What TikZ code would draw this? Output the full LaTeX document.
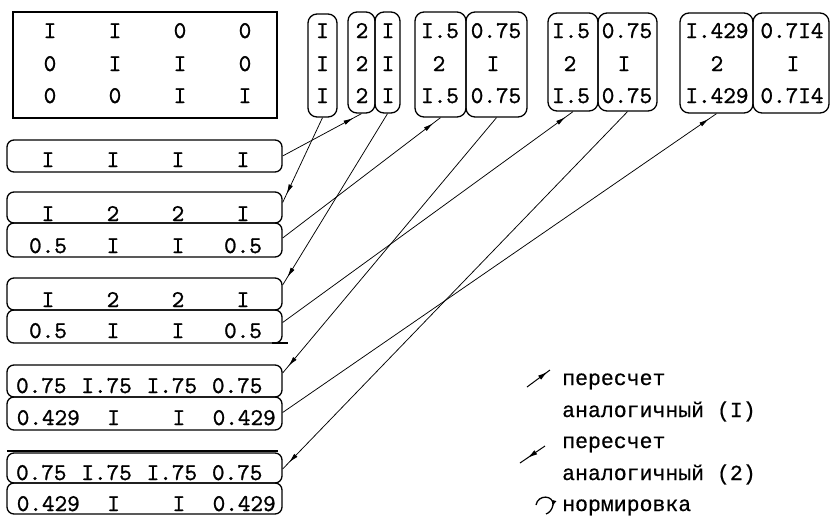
\documentclass[tikz,border=0pt]{standalone}
\usepackage{fontspec}
\newfontfamily\tw{Liberation Mono}[FakeBold=0.5]
\newfontfamily\nums{lmmono10-regular.otf}[FakeBold=1]
\usetikzlibrary{decorations.markings,arrows.meta,calc}
\tikzset{
  box/.style={draw, line width=1.3pt, inner sep=0pt},
  colbox/.style={box, rounded corners=9pt},
  rowbox/.style={box, rounded corners=7pt, minimum width=275pt},
  txt/.style={inner sep=0pt, anchor=base, font=\nums\fontsize{24}{25}\selectfont},
  ltxt/.style={inner sep=0pt, anchor=base west, font=\tw\fontsize{21.5}{22}\selectfont},
  conn/.style={line width=0.75pt,
    decoration={markings, mark=at position -9pt with {\arrow{Latex[length=10pt,width=4.5pt]}}},
    postaction={decorate}},
}
\begin{document}
\begin{tikzpicture}[x=1pt,y=-1pt]
\useasboundingbox (0,0) rectangle (831,515);
% matrix
\node[box, minimum width=264pt, minimum height=106pt] (M) at (145,65) {};
\foreach \t [count=\i] in {I,I,0,0}{\node[txt] (m1\i) at (-15+65*\i,38) {\t};}
\foreach \t [count=\i] in {0,I,I,0}{\node[txt] (m2\i) at (-15+65*\i,71) {\t};}
\foreach \t [count=\i] in {0,0,I,I}{\node[txt] (m3\i) at (-15+65*\i,103) {\t};}
% top columns
\node[colbox, minimum width=29pt, minimum height=103pt] (C1) at (322.5,65.5) {};
\node[colbox, minimum width=27pt, minimum height=101pt] (C2L) at (361.5,62.5) {};
\node[colbox, minimum width=25pt, minimum height=101pt] (C2R) at (387.5,62.5) {};
\node[colbox, minimum width=51pt, minimum height=105pt] (C3L) at (440.5,64.5) {};
\node[colbox, minimum width=61pt, minimum height=105pt] (C3R) at (496.5,64.5) {};
\node[colbox, minimum width=50pt, minimum height=98pt] (C4L) at (573,62) {};
\node[colbox, minimum width=59pt, minimum height=98pt] (C4R) at (627.5,62) {};
\node[colbox, minimum width=73pt, minimum height=100pt] (C5L) at (716.5,63) {};
\node[colbox, minimum width=76pt, minimum height=100pt] (C5R) at (791,63) {};
\foreach \y [count=\i] in {38,71,103}{
  \node[txt] (c1t\i) at (322.5,\y) {I};
  \node[txt] (c2lt\i) at (362,\y) {2};
  \node[txt] (c2rt\i) at (388,\y) {I};
}
\node[txt] (c3l1) at (440,38) {I.5};
\node[txt] (c3l2) at (439,71) {2};
\node[txt] (c3l3) at (440,103) {I.5};
\node[txt] (c3r1) at (496,38) {0.75};
\node[txt] (c3r2) at (493,71) {I};
\node[txt] (c3r3) at (496,103) {0.75};
\node[txt] (c4l1) at (571,38) {I.5};
\node[txt] (c4l2) at (570,71) {2};
\node[txt] (c4l3) at (571,103) {I.5};
\node[txt] (c4r1) at (627,38) {0.75};
\node[txt] (c4r2) at (624,71) {I};
\node[txt] (c4r3) at (627,103) {0.75};
\node[txt] (c5l1) at (717,38) {I.429};
\node[txt] (c5l2) at (717,71) {2};
\node[txt] (c5l3) at (717,103) {I.429};
\node[txt] (c5r1) at (792,38) {0.7I4};
\node[txt] (c5r2) at (793,71) {I};
\node[txt] (c5r3) at (792,103) {0.7I4};
% rows
\node[rowbox, minimum height=32pt] (R1) at (144.5,156) {};
\node[rowbox, minimum height=31pt] (R2a) at (144.5,207.5) {};
\node[rowbox, minimum height=34pt] (R2b) at (144.5,240) {};
\node[rowbox, minimum height=32pt] (R3a) at (144.5,294) {};
\node[rowbox, minimum height=33pt] (R3b) at (144.5,326.5) {};
\node[rowbox, minimum height=32pt] (R4a) at (144.5,381) {};
\node[rowbox, minimum height=33pt] (R4b) at (144.5,413.5) {};
\node[rowbox, minimum height=30pt] (R5a) at (144.5,468) {};
\node[rowbox, minimum height=31pt] (R5b) at (144.5,498.5) {};
\coordinate (u1) at (272,343);
\coordinate (u2) at (288,343);
\draw[line width=1.3pt] (u1) -- (u2);
\coordinate (v1) at (7,451);
\coordinate (v2) at (278,451);
\draw[line width=1.3pt] (v1) -- (v2);
\foreach \t [count=\i] in {I,I,I,I}{\node[txt] (r1t\i) at (-17+65*\i,167) {\t};}
\foreach \t [count=\i] in {I,2,2,I}{\node[txt] (r2at\i) at (-17+65*\i,221) {\t};}
\foreach \t [count=\i] in {0.5,I,I,0.5}{\node[txt] (r2bt\i) at (-17+65*\i,253) {\t};}
\foreach \t [count=\i] in {I,2,2,I}{\node[txt] (r3at\i) at (-17+65*\i,307) {\t};}
\foreach \t [count=\i] in {0.5,I,I,0.5}{\node[txt] (r3bt\i) at (-17+65*\i,338) {\t};}
\foreach \t [count=\i] in {0.75,I.75,I.75,0.75}{\node[txt] (r4at\i) at (-24+65.3*\i,393) {\t};}
\foreach \t [count=\i] in {0.429,I,I,0.429}{\node[txt] (r4bt\i) at (-17+65.3*\i,425) {\t};}
\foreach \t [count=\i] in {0.75,I.75,I.75,0.75}{\node[txt] (r5at\i) at (-24+65.3*\i,480) {\t};}
\foreach \t [count=\i] in {0.429,I,I,0.429}{\node[txt] (r5bt\i) at (-17+65.3*\i,511) {\t};}
% connectors
\draw[conn] (R1.east) -- (C2L.south);
\draw[conn] (C1.south) -- ($(R2a.east)+(0,-5)$);
\draw[conn] (C2R.south) -- ($(R3a.east)+(0,-9)$);
\draw[conn] ($(R2b.east)+(0,-2)$) -- (C3L.south);
\draw[conn] (C3R.south) -- ($(R4a.east)+(0,-8)$);
\draw[conn] ($(R3b.east)+(0,-4)$) -- (C4L.south);
\draw[conn] (C4R.south) -- ($(R5a.east)+(0,1)$);
\draw[conn] ($(R4b.east)+(0,-1)$) -- (C5L.south);
% legend
\coordinate (l1a) at (527,387);
\coordinate (l1b) at (550,370);
\draw[line width=1pt, decoration={markings, mark=at position 0.9 with {\arrow{Latex[length=10pt,width=5pt]}}}, postaction={decorate}] (l1a) -- (l1b);
\coordinate (l2a) at (545,446);
\coordinate (l2b) at (520,463);
\draw[line width=1pt, decoration={markings, mark=at position 0.7 with {\arrow{Latex[length=10pt,width=5pt]}}}, postaction={decorate}] (l2a) -- (l2b);
\coordinate (l3a) at (536,505);
\coordinate (l3b) at (546,514);
\draw[line width=1.3pt, decoration={markings, mark=at position 0.72 with {\arrow{Latex[length=6pt,width=4.5pt]}}}, postaction={decorate}] (l3a) .. controls (538,494) and (554,495) .. (553,505) .. controls (552,510) and (549,513) .. (l3b);
\node[ltxt] (g1) at (562,385) {пересчет};
\node[ltxt] (g2) at (562,417) {аналогичный (I)};
\node[ltxt] (g3) at (562,448) {пересчет};
\node[ltxt] (g4) at (562,480) {аналогичный (2)};
\node[ltxt] (g5) at (562,511) {нормировка};
\end{tikzpicture}
\end{document}
